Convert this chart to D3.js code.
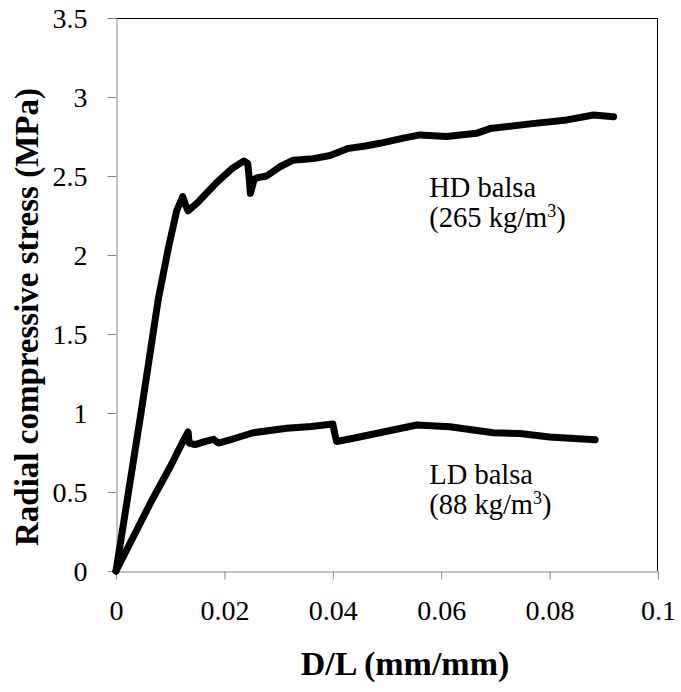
<!DOCTYPE html>
<html><head><meta charset="utf-8">
<script src="https://cdn.jsdelivr.net/npm/d3@7"></script>
<style>
html,body{margin:0;padding:0;background:#fff;}
svg text{font-family:"Liberation Serif","Times New Roman",serif;fill:#000;}
</style></head>
<body>
<svg id="chart" width="681" height="692"></svg>
<script>
// ---- data ----
const xTicks = [0, 0.02, 0.04, 0.06, 0.08, 0.1];
const xTickLabels = ["0", "0.02", "0.04", "0.06", "0.08", "0.1"];
const yTicks = [0, 0.5, 1, 1.5, 2, 2.5, 3, 3.5];
const yTickLabels = ["0", "0.5", "1", "1.5", "2", "2.5", "3", "3.5"];

const hdX = [0, 0.0047, 0.0078, 0.0097, 0.0112, 0.0123, 0.0128, 0.0133, 0.0150, 0.0186, 0.0215, 0.0236, 0.0243, 0.0246, 0.0248, 0.0255, 0.0262, 0.0278, 0.0303, 0.0327, 0.0364, 0.0395, 0.0429, 0.0460, 0.0487, 0.0530, 0.0561, 0.0610, 0.0665, 0.0690, 0.0764, 0.0832, 0.0881, 0.0918];
const hdY = [0, 1.02, 1.72, 2.05, 2.28, 2.37, 2.32, 2.28, 2.33, 2.46, 2.55, 2.595, 2.58, 2.48, 2.39, 2.48, 2.49, 2.50, 2.56, 2.60, 2.61, 2.63, 2.675, 2.69, 2.707, 2.74, 2.76, 2.75, 2.77, 2.80, 2.83, 2.855, 2.886, 2.875];

const ldX = [0, 0.0065, 0.0100, 0.0125, 0.0133, 0.0135, 0.0146, 0.0165, 0.0180, 0.0189, 0.0220, 0.0253, 0.0315, 0.0360, 0.0400, 0.0403, 0.0407, 0.0438, 0.0493, 0.0555, 0.0616, 0.0696, 0.0745, 0.0800, 0.0884];
const ldY = [0, 0.44, 0.66, 0.83, 0.88, 0.81, 0.80, 0.82, 0.833, 0.81, 0.84, 0.875, 0.903, 0.915, 0.93, 0.88, 0.82, 0.84, 0.88, 0.924, 0.913, 0.875, 0.87, 0.848, 0.83];

const seriesNames = ["HD balsa", "LD balsa"];
const seriesNotes = ["(265 kg/m", "(88 kg/m"];
const labelX = [0.0578, 0.0578];
const labelY = [2.37, 0.55];

const xTitle = "D/L (mm/mm)";
const yTitle = "Radial compressive stress (MPa)";

// ---- layout ----
const svg = d3.select("#chart");
const L = 116, R = 658, T = 18, B = 571;
const x = d3.scaleLinear().domain([0, 0.1]).range([L, R]);
const y = d3.scaleLinear().domain([0, 3.5]).range([B, T]);
const axisGray = "#898989";

// frame top & right (black)
svg.append("line").attr("x1", L).attr("x2", R).attr("y1", T + 0.5).attr("y2", T + 0.5).attr("stroke", "#000").attr("stroke-width", 1);
svg.append("line").attr("x1", R - 0.5).attr("x2", R - 0.5).attr("y1", T).attr("y2", B).attr("stroke", "#000").attr("stroke-width", 1);

// axes
const gx = svg.append("g").attr("transform", `translate(0,${B + 0.5})`)
  .call(d3.axisBottom(x).tickValues(xTicks).tickFormat((d, i) => xTickLabels[i]).tickSizeOuter(0).tickSizeInner(8).tickPadding(20));
const gy = svg.append("g").attr("transform", `translate(${L + 0.5},0)`)
  .call(d3.axisLeft(y).tickValues(yTicks).tickFormat((d, i) => yTickLabels[i]).tickSizeOuter(0).tickSizeInner(9).tickPadding(20));
[gx, gy].forEach(g => {
  g.select(".domain").attr("stroke", axisGray).attr("stroke-width", 1);
  g.selectAll(".tick line").attr("stroke", axisGray).attr("stroke-width", 1);
  g.selectAll("text").attr("font-family", "Liberation Serif").attr("font-size", 28).attr("fill", "#000");
});
gx.selectAll(".tick text").attr("dy", null).attr("y", 48.5);
gy.selectAll(".tick text").attr("x", -29).attr("dy", "0.34em");

// curves
const line = d3.line().x(d => x(d[0])).y(d => y(d[1]));
const hd = hdX.map((v, i) => [v, hdY[i]]);
const ld = ldX.map((v, i) => [v, ldY[i]]);
[hd, ld].forEach(data => {
  svg.append("path").datum(data).attr("d", line)
    .attr("fill", "none").attr("stroke", "#000").attr("stroke-width", 7)
    .attr("stroke-linejoin", "round").attr("stroke-linecap", "round");
});

// annotations
seriesNames.forEach((name, i) => {
  const t = svg.append("text").attr("x", x(labelX[i])).attr("y", y(labelY[i])).attr("font-size", 28.5);
  t.append("tspan").attr("x", x(labelX[i])).text(name);
  t.append("tspan").attr("x", x(labelX[i])).attr("dy", 30).text(seriesNotes[i]);
  t.append("tspan").attr("font-size", 18).attr("dy", -10).text("3");
  t.append("tspan").attr("dy", 10).text(")");
});

// titles
svg.append("text").attr("x", 405).attr("y", 675).attr("text-anchor", "middle")
  .attr("font-weight", "bold").attr("font-size", 34).text(xTitle);
svg.append("text").attr("transform", "translate(38,317) rotate(-90)").attr("text-anchor", "middle")
  .attr("font-weight", "bold").attr("font-size", 33).text(yTitle);
</script>
</body></html>
